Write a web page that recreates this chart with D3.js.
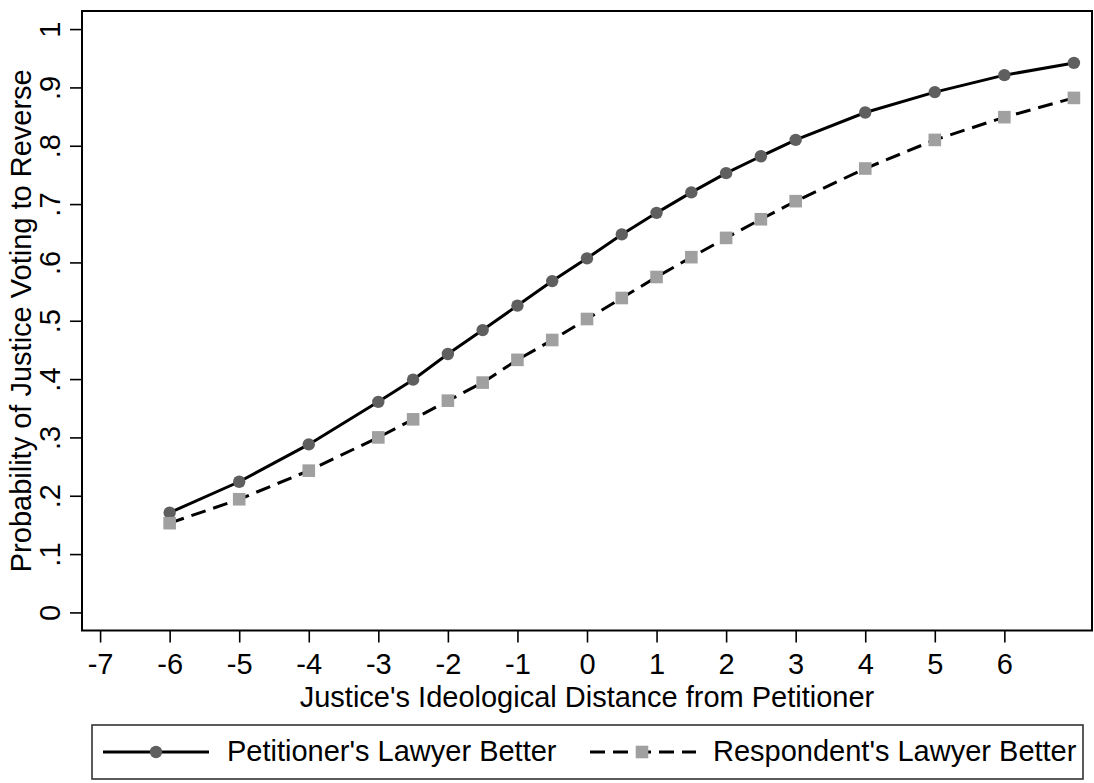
<!DOCTYPE html>
<html>
<head>
<meta charset="utf-8">
<script src="https://cdnjs.cloudflare.com/ajax/libs/d3/7.8.5/d3.min.js"></script>
<style>
  body { margin: 0; background: #fff; }
  svg text { font-family: "Liberation Sans", Arial, Helvetica, sans-serif; fill: #000; }
</style>
</head>
<body>
<div id="chart"></div>
<script>
// data
var distance = [-6, -5, -4, -3, -2.5, -2, -1.5, -1, -0.5, 0, 0.5, 1, 1.5, 2, 2.5, 3, 4, 5, 6, 7];
var petitionerBetter = [0.171, 0.224, 0.288, 0.361, 0.399, 0.443, 0.484, 0.526, 0.568, 0.607, 0.648, 0.685, 0.720, 0.753, 0.782, 0.810, 0.857, 0.892, 0.921, 0.942];
var respondentBetter = [0.153, 0.194, 0.243, 0.300, 0.331, 0.363, 0.394, 0.433, 0.467, 0.503, 0.539, 0.575, 0.609, 0.642, 0.674, 0.705, 0.761, 0.810, 0.849, 0.882];
var xTicks = [-7, -6, -5, -4, -3, -2, -1, 0, 1, 2, 3, 4, 5, 6];
var yTicks = [0, 0.1, 0.2, 0.3, 0.4, 0.5, 0.6, 0.7, 0.8, 0.9, 1];
var seriesNames = ["Petitioner's Lawyer Better", "Respondent's Lawyer Better"];

var width = 1094, height = 783;
var plot = { left: 82, right: 1092, top: 11, bottom: 630.5 };
var fontSize = 29;

var svg = d3.select("#chart").append("svg")
  .attr("width", width)
  .attr("height", height);

// scales
var xScale = d3.scaleLinear()
  .domain([-7.26, 7.26])
  .range([plot.left, plot.right]);
var yScale = d3.scaleLinear()
  .domain([-0.031, 1.031])
  .range([plot.bottom, plot.top]);

// x axis
var xAxis = svg.append("g")
  .attr("transform", `translate(0, ${plot.bottom})`)
  .call(d3.axisBottom(xScale).tickValues(xTicks).tickSize(12).tickPadding(14)
    .tickFormat(d => String(d)));
xAxis.select(".domain").remove();
xAxis.selectAll(".tick line").attr("stroke", "#000").attr("stroke-width", 1.6);
xAxis.selectAll(".tick text")
  .attr("font-size", fontSize)
  .attr("font-family", null)
  .attr("dy", null)
  .attr("y", 43);

// y axis, labels turned on their side
var yAxis = svg.append("g")
  .attr("transform", `translate(${plot.left}, 0)`)
  .call(d3.axisLeft(yScale).tickValues(yTicks).tickSize(12)
    .tickFormat(d => d === 0 ? "0" : d === 1 ? "1" : String(Math.round(d * 10) / 10).replace("0.", ".")));
yAxis.select(".domain").remove();
yAxis.selectAll(".tick line").attr("stroke", "#000").attr("stroke-width", 1.6);
yAxis.selectAll(".tick text")
  .attr("font-size", fontSize)
  .attr("font-family", null)
  .attr("transform", "rotate(-90)")
  .attr("text-anchor", "middle")
  .attr("x", 0)
  .attr("dy", null)
  .attr("y", -22);

// frame
svg.append("rect")
  .attr("x", plot.left)
  .attr("y", plot.top)
  .attr("width", plot.right - plot.left)
  .attr("height", plot.bottom - plot.top)
  .attr("fill", "none")
  .attr("stroke", "#000")
  .attr("stroke-width", 2);

// axis titles
svg.append("text")
  .attr("x", (plot.left + plot.right) / 2)
  .attr("y", 706.5)
  .attr("text-anchor", "middle")
  .attr("font-size", fontSize)
  .text("Justice's Ideological Distance from Petitioner");

svg.append("text")
  .attr("transform", `translate(31, ${(plot.top + plot.bottom) / 2}) rotate(-90)`)
  .attr("text-anchor", "middle")
  .attr("font-size", fontSize)
  .text("Probability of Justice Voting to Reverse");

// lines
var line = d3.line()
  .x(d => xScale(d[0]))
  .y(d => yScale(d[1]));

var petData = distance.map((d, i) => [d, petitionerBetter[i]]);
var resData = distance.map((d, i) => [d, respondentBetter[i]]);

svg.append("path")
  .datum(petData)
  .attr("d", line)
  .attr("fill", "none")
  .attr("stroke", "#000")
  .attr("stroke-width", 3);

svg.selectAll(".pet")
  .data(petData)
  .enter()
  .append("circle")
  .attr("class", "pet")
  .attr("cx", d => xScale(d[0]))
  .attr("cy", d => yScale(d[1]))
  .attr("r", 6.2)
  .attr("fill", "#5f5f5f");

svg.append("path")
  .datum(resData)
  .attr("d", line)
  .attr("fill", "none")
  .attr("stroke", "#000")
  .attr("stroke-width", 3)
  .attr("stroke-dasharray", "15,8");

svg.selectAll(".res")
  .data(resData)
  .enter()
  .append("rect")
  .attr("class", "res")
  .attr("x", d => xScale(d[0]) - 6.3)
  .attr("y", d => yScale(d[1]) - 6.3)
  .attr("width", 12.6)
  .attr("height", 12.6)
  .attr("fill", "#a0a0a0");

// legend
var legend = svg.append("g");
legend.append("rect")
  .attr("x", 92)
  .attr("y", 725)
  .attr("width", 991)
  .attr("height", 54)
  .attr("fill", "none")
  .attr("stroke", "#333")
  .attr("stroke-width", 1.6);

var keyY = 752;
legend.append("line")
  .attr("x1", 103).attr("x2", 209)
  .attr("y1", keyY).attr("y2", keyY)
  .attr("stroke", "#000").attr("stroke-width", 3);
legend.append("circle")
  .attr("cx", 156).attr("cy", keyY).attr("r", 6.2)
  .attr("fill", "#5f5f5f");
legend.append("text")
  .attr("x", 227).attr("y", 761)
  .attr("font-size", fontSize)
  .text(seriesNames[0]);

legend.append("line")
  .attr("x1", 590).attr("x2", 696)
  .attr("y1", keyY).attr("y2", keyY)
  .attr("stroke", "#000").attr("stroke-width", 3)
  .attr("stroke-dasharray", "15,8");
legend.append("rect")
  .attr("x", 642 - 6.3).attr("y", keyY - 6.3)
  .attr("width", 12.6).attr("height", 12.6)
  .attr("fill", "#a0a0a0");
legend.append("text")
  .attr("x", 713).attr("y", 761)
  .attr("font-size", fontSize)
  .text(seriesNames[1]);
</script>
</body>
</html>
